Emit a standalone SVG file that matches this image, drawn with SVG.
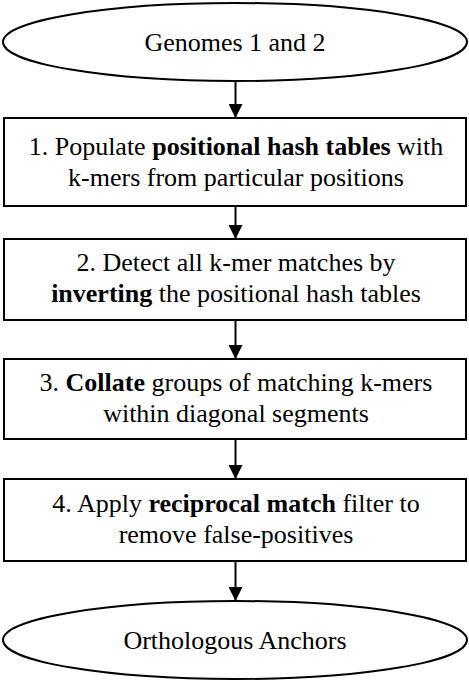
<svg xmlns="http://www.w3.org/2000/svg" width="469" height="681" viewBox="0 0 469 681">
<style>
.shape{fill:#fff;stroke:#000;stroke-width:2}
.t{font-family:'Liberation Serif','Times New Roman','DejaVu Serif',serif;font-size:26px;fill:#000;text-anchor:middle}
.b{font-weight:bold}
.c{stroke:#000;stroke-width:2;fill:none}
</style>
<defs>
<marker id="ah" markerUnits="userSpaceOnUse" markerWidth="14" markerHeight="14" refX="14" refY="7" orient="auto">
<path d="M0,0 L14,7 L0,14 Z" fill="#000"/>
</marker>
</defs>
<rect width="469" height="681" fill="#fff"/>
<g id="connectors">
<line class="c" x1="235.5" y1="81" x2="235.5" y2="118" marker-end="url(#ah)"/>
<line class="c" x1="235.5" y1="206" x2="235.5" y2="239" marker-end="url(#ah)"/>
<line class="c" x1="235.5" y1="320" x2="235.5" y2="359" marker-end="url(#ah)"/>
<line class="c" x1="235.5" y1="439" x2="235.5" y2="479" marker-end="url(#ah)"/>
<line class="c" x1="235.5" y1="561" x2="235.5" y2="601" marker-end="url(#ah)"/>
</g>
<g font-family="Liberation Serif, serif">
<g id="genomes">
<ellipse class="shape" cx="235" cy="42" rx="232" ry="39"/>
<text class="t" x="235" y="51">Genomes 1 and 2</text>
</g>
<g id="step1">
<rect class="shape" x="4" y="118" width="462" height="88"/>
<text class="t" x="236" y="155">1. Populate <tspan class="b">positional hash tables</tspan> with</text>
<text class="t" x="236" y="186">k-mers from particular positions</text>
</g>
<g id="step2">
<rect class="shape" x="4" y="239" width="462" height="81"/>
<text class="t" x="236" y="271">2. Detect all k-mer matches by</text>
<text class="t" x="236" y="302"><tspan class="b">inverting</tspan> the positional hash tables</text>
</g>
<g id="step3">
<rect class="shape" x="4" y="359" width="462" height="80"/>
<text class="t" x="236" y="391">3. <tspan class="b">Collate</tspan> groups of matching k-mers</text>
<text class="t" x="236" y="422">within diagonal segments</text>
</g>
<g id="step4">
<rect class="shape" x="4" y="479" width="462" height="82"/>
<text class="t" x="236" y="512">4. Apply <tspan class="b">reciprocal match</tspan> filter to</text>
<text class="t" x="236" y="543">remove false-positives</text>
</g>
<g id="anchors">
<ellipse class="shape" cx="235" cy="640" rx="232" ry="39"/>
<text class="t" x="235" y="649">Orthologous Anchors</text>
</g>
</g>
</svg>
